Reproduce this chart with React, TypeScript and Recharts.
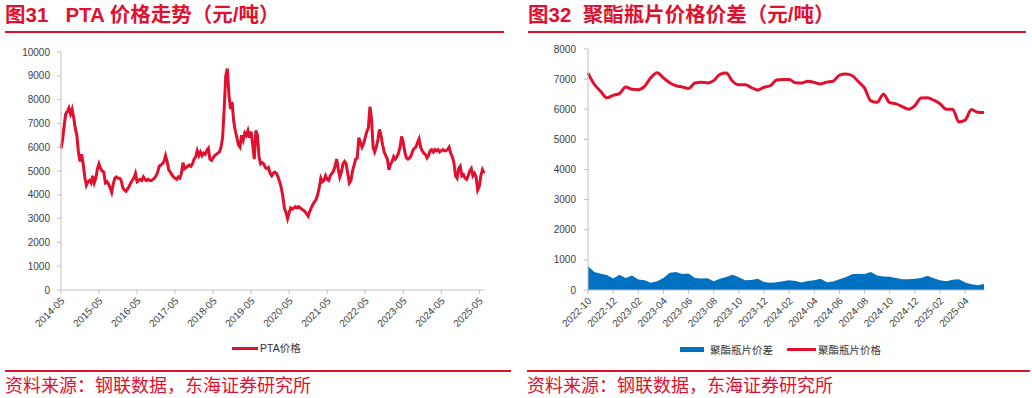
import React from 'react';
import { LineChart, Line, ComposedChart, Area, XAxis, YAxis } from 'recharts';

const RED = '#E0102F';
const BLUE = '#0070C0';
const AXIS = '#BFBFBF';
const TICK_TEXT = '#404040';
const FONT = '"Liberation Sans", Arial, "Noto Sans CJK SC", sans-serif';
const CJK = '"Noto Sans CJK SC", "Liberation Sans", sans-serif';

// PTA price (元/吨), one point every half month starting 2014-05
const ptaPrices = [
  5950, 6300, 6900, 7400, 7500, 7650, 7400, 7600, 7250, 6800, 6500, 5800,
  5400, 5700, 5300, 4750, 4400, 4550, 4600, 4500, 4800, 4500, 4700, 5100,
  5300, 5100, 5000, 4950, 4500, 4550, 4450, 4300, 4100, 4450, 4700, 4750,
  4700, 4700, 4600, 4300, 4200, 4150, 4250, 4350, 4500, 4600, 4700, 4900,
  4550, 4600, 4650, 4600, 4750, 4650, 4600, 4650, 4600, 4600, 4650, 4700,
  4800, 4950, 5200, 5250, 5300, 5400, 5650, 5400, 5050, 4950, 4850, 4750,
  4700, 4650, 4750, 4700, 4900, 5350, 5100, 5150, 5200, 5250, 5200, 5300,
  5500, 5600, 5850, 5650, 5800, 5650, 5750, 5700, 5850, 5950, 5500, 5450,
  5550, 5650, 5700, 5750, 5800, 6000, 6400, 7600, 9000, 9300, 8200, 7600,
  7900, 7100, 6700, 6400, 6100, 6000, 6500, 6300, 6600, 6500, 6700, 6400,
  6650, 6100, 5500, 6700, 6500, 5600, 5300, 5350, 5300, 5150, 5100, 5150,
  4900, 4800, 4900, 4950, 4900, 4750, 4550, 4300, 3950, 3450, 3250, 3000,
  3250, 3450, 3400, 3450, 3500, 3450, 3500, 3450, 3400, 3350, 3300, 3200,
  3100, 3300, 3450, 3600, 3700, 3800, 4000, 4300, 4700, 4550, 4600, 4800,
  4650, 4600, 4800, 4900, 5000, 5200, 5500, 5100, 4750, 4950, 5300, 5400,
  5300, 4900, 4500, 4600, 5000, 5250, 5500, 5550, 6400, 6200, 6000, 6150,
  6400, 6650, 6800, 7700, 7200, 6000, 5800, 6000, 6300, 6750, 6500, 6100,
  5800, 5650, 5500, 5050, 5300, 5400, 5600, 5500, 5600, 5750, 6000, 6450,
  6200, 5800, 5550, 5500, 5550, 5650, 5850, 5950, 6000, 6200, 6350, 6000,
  5850, 5750, 5700, 5550, 5650, 5850, 5900, 5800, 5900, 5850, 5900, 5800,
  5850, 5900, 5850, 5850, 5900, 6000, 5750, 5600, 5350, 4800, 4700, 5100,
  5200, 4800, 4850, 4700, 4650, 4800, 5000, 5100, 4800, 4900, 4750, 4200,
  4350, 4800, 5050, 4900,
];
const ptaYTicks = [0, 1000, 2000, 3000, 4000, 5000, 6000, 7000, 8000, 9000, 10000];
// months since 2014-05
const ptaXTicks = [0, 12, 24, 36, 48, 60, 72, 84, 96, 108, 120, 132];

// bottle-grade PET chips, one point every half month starting 2022-10
const bottlePrices = [
  7200, 6830, 6600, 6380, 6460, 6520, 6740, 6660, 6650, 6760, 7050, 7210,
  7040, 6880, 6780, 6740, 6690, 6870, 6900, 6870, 6950, 7160, 7200, 6930,
  6810, 6810, 6720, 6640, 6730, 6780, 6970, 6990, 6990, 6880, 6870, 6930,
  6890, 6840, 6900, 6930, 7130, 7170, 7120, 6920, 6700, 6280, 6230, 6500,
  6220, 6180, 6090, 6000, 6120, 6370, 6380, 6300, 6180, 6000, 6000, 5580,
  5640, 5990, 5900, 5890,
];
const bottleSpread = [
  790, 600, 540, 500, 380, 510, 400, 480, 350, 320, 240, 290,
  400, 570, 600, 530, 550, 400, 380, 390, 290, 370, 430, 510,
  420, 320, 330, 376, 265, 240, 260, 288, 320, 300, 250, 300,
  325, 376, 260, 280, 360, 420, 520, 540, 530, 600, 480, 450,
  440, 400, 355, 355, 370, 400, 470, 390, 320, 290, 340, 355,
  250, 190, 160, 200,
];
const bottleYTicks = [0, 1000, 2000, 3000, 4000, 5000, 6000, 7000, 8000];
// months since 2022-10
const bottleXTicks = [0, 2, 4, 6, 8, 10, 12, 14, 16, 18, 20, 22, 24, 26, 28, 30];

const ptaData = ptaPrices.map((v, i) => ({ t: i / 2, pta: v }));
const bottleData = bottlePrices.map((v, i) => ({ t: i / 2, price: v, spread: bottleSpread[i] }));

const ptaLabel = (m: number) => `${2014 + m / 12}-05`;
const bottleLabel = (m: number) => {
  const k = 9 + m;
  const mo = (k % 12) + 1;
  return `${2022 + Math.floor(k / 12)}-${mo < 10 ? '0' + mo : mo}`;
};

const SlantTick = (props: any) => {
  const { x, y, payload, fmt } = props;
  return (
    <g transform={`translate(${x},${y})`}>
      <text x={-1} y={0} dy={7} textAnchor="end" transform="rotate(-45)"
        fontSize={10} fill={TICK_TEXT} fontFamily={FONT}>
        {fmt(payload.value)}
      </text>
    </g>
  );
};

const yTick = { fontSize: 10, fill: TICK_TEXT, fontFamily: FONT };

const Title = ({ left, width, text }: { left: number; width: number; text: string }) => (
  <>
    <div style={{
      position: 'absolute', left, top: 3, fontSize: 20.5, lineHeight: '24px', fontWeight: 'bold',
      color: RED, fontFamily: FONT, whiteSpace: 'pre',
    }}>{text}</div>
    <div style={{ position: 'absolute', left, top: 31, width, height: 2, background: RED }} />
  </>
);

const Source = ({ left, width }: { left: number; width: number }) => (
  <>
    <div style={{ position: 'absolute', left, top: 370, width, height: 2, background: RED }} />
    <div style={{
      position: 'absolute', left, top: 374, fontSize: 18, lineHeight: '20px', color: RED,
      fontFamily: CJK, whiteSpace: 'pre',
    }}>资料来源：钢联数据，东海证券研究所</div>
  </>
);

const legendText: React.CSSProperties = {
  position: 'absolute', fontSize: 10.5, lineHeight: '12px', color: '#333', fontFamily: FONT, whiteSpace: 'pre',
};

export default function App() {
  return (
    <div style={{ position: 'absolute', left: 0, top: 0, width: 1032, height: 398, background: '#fff', overflow: 'hidden' }}>
      <Title left={5} width={499} text={'图31   PTA 价格走势（元/吨）'} />
      <Title left={528} width={498} text={'图32  聚酯瓶片价格价差（元/吨）'} />

      <div style={{ position: 'absolute', left: 0, top: 40 }}>
        <LineChart width={516} height={300} data={ptaData} margin={{ top: 12, right: 32, left: 0, bottom: 0 }}>
          <XAxis dataKey="t" type="number" domain={[0, 133.5]} ticks={ptaXTicks} interval={0}
            height={50} tickSize={4} tickMargin={2}
            axisLine={{ stroke: AXIS }} tickLine={{ stroke: AXIS }}
            tick={(p: any) => <SlantTick {...p} fmt={ptaLabel} />} />
          <YAxis type="number" domain={[0, 10000]} ticks={ptaYTicks} interval={0} width={61}
            tickSize={4} tickMargin={7} axisLine={{ stroke: AXIS }} tickLine={{ stroke: AXIS }} tick={yTick} />
          <Line type="linear" dataKey="pta" stroke={RED} strokeWidth={3} dot={false} isAnimationActive={false} />
        </LineChart>
      </div>

      <div style={{ position: 'absolute', left: 516, top: 40 }}>
        <ComposedChart width={516} height={300} data={bottleData} margin={{ top: 9, right: 48, left: 0, bottom: 0 }}>
          <XAxis dataKey="t" type="number" domain={[0, 31.5]} ticks={bottleXTicks} interval={0}
            height={50} tickSize={4} tickMargin={2}
            axisLine={{ stroke: AXIS }} tickLine={{ stroke: AXIS }}
            tick={(p: any) => <SlantTick {...p} fmt={bottleLabel} />} />
          <YAxis type="number" domain={[0, 8000]} ticks={bottleYTicks} interval={0} width={72}
            tickSize={4} tickMargin={8} axisLine={{ stroke: AXIS }} tickLine={{ stroke: AXIS }} tick={yTick} />
          <Area type="linear" dataKey="spread" stroke="none" fill={BLUE} fillOpacity={1} isAnimationActive={false} />
          <Line type="monotone" dataKey="price" stroke={RED} strokeWidth={3} dot={false} isAnimationActive={false} />
        </ComposedChart>
      </div>

      {/* legends */}
      <div style={{ position: 'absolute', left: 232, top: 347, width: 26, height: 3, background: RED }} />
      <div style={{ ...legendText, left: 260, top: 342 }}>PTA价格</div>
      <div style={{ position: 'absolute', left: 680, top: 347, width: 24, height: 5, background: BLUE }} />
      <div style={{ ...legendText, left: 710, top: 344 }}>聚酯瓶片价差</div>
      <div style={{ position: 'absolute', left: 787, top: 348, width: 29, height: 3, background: RED }} />
      <div style={{ ...legendText, left: 818, top: 344 }}>聚酯瓶片价格</div>

      <Source left={5} width={506} />
      <Source left={527} width={503} />
    </div>
  );
}
